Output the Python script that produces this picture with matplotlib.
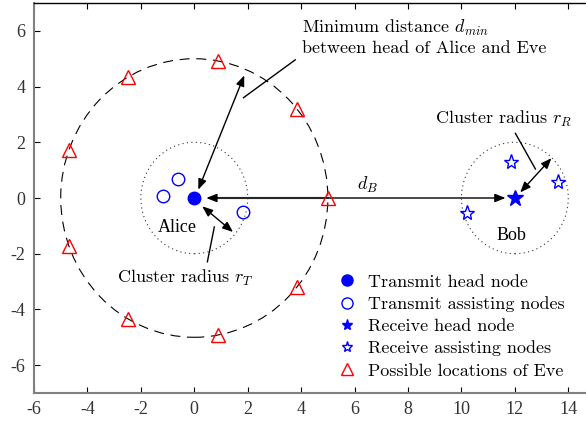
import matplotlib

matplotlib.use("Agg")
import matplotlib.pyplot as plt
from matplotlib.patches import Ellipse

plt.rcParams["mathtext.fontset"] = "cm"
plt.rcParams["axes.unicode_minus"] = False

# node positions
alice_head = (0.0, 0.0)
alice_assist_x = [-1.16, -0.6, 1.84]
alice_assist_y = [0.07, 0.68, -0.52]
bob_head = (12.0, 0.0)
bob_assist_x = [11.87, 13.63, 10.19]
bob_assist_y = [1.29, 0.57, -0.54]
eve_x = [5.0, 3.83, 0.87, -2.5, -4.7, -4.7, -2.5, 0.87, 3.83]
eve_y = [0.0, 3.21, 4.92, 4.33, 1.71, -1.71, -4.33, -4.92, -3.21]
cluster_r = 2.0
eve_r = 5.0

xticks = [-6, -4, -2, 0, 2, 4, 6, 8, 10, 12, 14]
yticks = [-6, -4, -2, 0, 2, 4, 6]

cm_font = "cmr10"
tick_font = "Liberation Serif"
fs = 13

fig = plt.figure(figsize=(5.86, 4.23), dpi=100)
ax = fig.add_axes([34 / 586, 30 / 423, 561 / 586, 390 / 423])

# cluster and eavesdropper circles
ax.add_patch(Ellipse(alice_head, 2 * eve_r, 2 * eve_r, fill=False, ls=(0, (9, 6)),
                     lw=0.8, color="black"))
ax.add_patch(Ellipse(alice_head, 2 * cluster_r, 2 * cluster_r, fill=False, ls=(0, (1, 3)),
                     lw=0.8, color="#333333"))
ax.add_patch(Ellipse(bob_head, 2 * cluster_r, 2 * cluster_r, fill=False, ls=(0, (1, 3)),
                     lw=0.8, color="#333333"))

# arrows
arrow = dict(arrowstyle="<|-|>,head_length=0.45,head_width=0.18", color="black", lw=1.0,
             mutation_scale=14, shrinkA=0, shrinkB=0)
ax.annotate("", xy=(11.65, 0.0), xytext=(0.45, 0.0), arrowprops=arrow)
ax.plot([0.6, 5.0], [0.0, 0.0], color="#808080", lw=1.6, zorder=2)
ax.annotate("", xy=(1.87, 4.4), xytext=(0.15, 0.3), arrowprops=arrow)
ax.annotate("", xy=(1.45, -1.22), xytext=(0.3, -0.3), arrowprops=arrow)
ax.annotate("", xy=(13.37, 1.43), xytext=(12.2, 0.2), arrowprops=arrow)

# leader lines to the labels
ax.plot([3.78, 1.84], [4.96, 3.6], color="black", lw=1.0)
ax.plot([0.75, 0.49], [-1.04, -2.29], color="black", lw=1.0)
ax.plot([12.02, 12.77], [2.32, 1.04], color="black", lw=1.0)

# nodes
ax.plot(*alice_head, "o", color="blue", ms=9, ls="none", label="Transmit head node", zorder=5)
ax.plot(alice_assist_x, alice_assist_y, "o", mfc="none", mec="blue", ms=9, mew=1.0,
        ls="none", label="Transmit assisting nodes", zorder=5)
ax.plot(*bob_head, "*", color="blue", ms=12, ls="none", label="Receive head node", zorder=5)
ax.plot(bob_assist_x, bob_assist_y, "*", mfc="none", mec="blue", ms=11, mew=1.0,
        ls="none", label="Receive assisting nodes", zorder=5)
ax.plot(eve_x, eve_y, "^", mfc="none", mec="red", ms=10, mew=1.0,
        ls="none", label="Possible locations of Eve", zorder=5)

# labels
ax.text(4.04, 6.1, "Minimum distance $d_{min}$", family=cm_font, fontsize=fs, va="center")
ax.text(4.04, 5.36, "between head of Alice and Eve", family=cm_font, fontsize=fs, va="center")
ax.text(6.5, 0.46, "$d_B$", fontsize=fs, ha="center", va="center")
ax.text(-2.88, -2.86, "Cluster radius $r_T$", family=cm_font, fontsize=fs, va="center")
ax.text(9.0, 2.85, "Cluster radius $r_R$", family=cm_font, fontsize=fs, va="center")
ax.text(-0.64, -1.07, "Alice", family=tick_font, fontsize=fs, ha="center", va="center")
ax.text(11.87, -1.36, "Bob", family=tick_font, fontsize=fs, ha="center", va="center")

leg = ax.legend(loc="upper left", bbox_to_anchor=(0.542, 0.305), frameon=False,
                prop={"family": cm_font, "size": fs}, handlelength=1.0,
                handletextpad=0.65, labelspacing=0.36, borderaxespad=0, borderpad=0,
                numpoints=1)
for h in leg.legend_handles:
    h.set_markersize(8)

ax.set_xlim(-6, 15)
ax.set_ylim(-7, 7)
ax.set_xticks(xticks)
ax.set_yticks(yticks)
for lab in ax.get_xticklabels() + ax.get_yticklabels():
    lab.set_family(tick_font)
    lab.set_fontsize(fs)
    lab.set_color("#333333")

ax.spines["right"].set_visible(False)
ax.spines["top"].set_linewidth(1.0)
for side in ["left", "bottom"]:
    ax.spines[side].set_color("#808080")
    ax.spines[side].set_linewidth(1.5)
ax.tick_params(direction="in", top=True, length=4, width=0.8, pad=6)

fig.savefig("out.png", dpi=100)
plt.close(fig)
